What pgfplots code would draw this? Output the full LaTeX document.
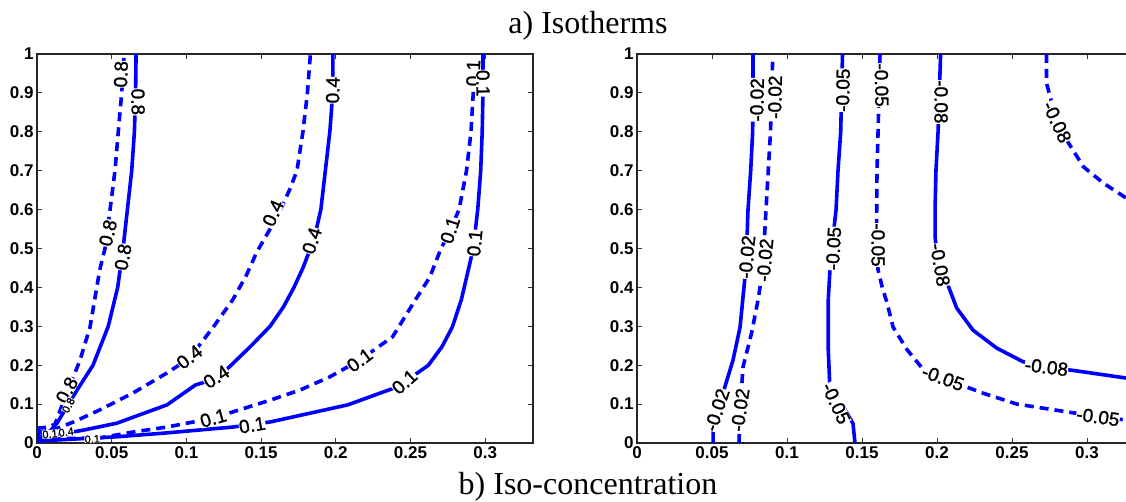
\documentclass[border=0pt]{standalone}
\usepackage{pgfplots}
\pgfplotsset{compat=1.18}
\usepackage{fontspec}
\setmainfont{Liberation Serif}
\newfontfamily\arial{Liberation Sans}
\newfontfamily\arialm[BoldFont={Liberation Sans}, BoldFeatures={FakeBold=1.3}]{Liberation Sans}

\pgfplotsset{
  mc/.style={
    scale only axis, height=389pt, anchor=south west,
    xmin=0, xmax=0.332, ymin=0, ymax=1,
    xtick={0,0.05,0.1,0.15,0.2,0.25,0.3},
    xticklabels={0,0.05,0.1,0.15,0.2,0.25,0.3},
    ytick={0,0.1,0.2,0.3,0.4,0.5,0.6,0.7,0.8,0.9,1},
    yticklabels={0,0.1,0.2,0.3,0.4,0.5,0.6,0.7,0.8,0.9,1},
    tick align=inside, major tick length=5pt,
    tick label style={font=\arial\bfseries\fontsize{17}{17}\selectfont},
    axis line style={line width=1.2pt, black!85},
    tick style={line width=0.9pt, black!80},
  },
  s/.style={blue, line width=3.6pt},
  d/.style={blue, line width=3.6pt, dash pattern=on 9pt off 6pt},
}
\newcommand{\cl}[4][19]{\node[fill=white, inner sep=0.2pt, rotate=#3, font=\arialm\bfseries\fontsize{#1}{#1}\selectfont] at (axis cs:#2) {#4};}

\begin{document}
\begin{tikzpicture}
\useasboundingbox (0,0) rectangle (1126pt,502pt);

\begin{axis}[mc, at={(37pt,59pt)}, width=496pt]
% 0.8
\addplot[s] coordinates {(0,0.025) (0.005,0.027) (0.0087,0.03) (0.0134,0.051) (0.020,0.093) (0.0268,0.136) (0.0375,0.2) (0.0477,0.3) (0.054,0.4) (0.0576,0.5) (0.0605,0.6) (0.0634,0.7) (0.0652,0.8) (0.066,0.9) (0.0663,1)};
\addplot[d] coordinates {(0,0.038) (0.006,0.04) (0.012,0.048) (0.0174,0.103) (0.0288,0.213) (0.0355,0.298) (0.042,0.445) (0.0455,0.5) (0.0489,0.6) (0.0522,0.7) (0.0544,0.8) (0.0567,0.9) (0.0582,0.99)};
% 0.4
\addplot[s] coordinates {(0,0.015) (0.008,0.018) (0.031,0.033) (0.0535,0.051) (0.087,0.098) (0.106,0.149) (0.121,0.167) (0.1426,0.247) (0.156,0.3) (0.165,0.35) (0.172,0.4) (0.178,0.45) (0.183,0.5) (0.187,0.55) (0.190,0.6) (0.193,0.7) (0.196,0.8) (0.198,0.9) (0.198,1)};
\addplot[d] coordinates {(0,0.028) (0.01,0.032) (0.025,0.055) (0.042,0.085) (0.064,0.128) (0.087,0.18) (0.102,0.218) (0.118,0.298) (0.131,0.368) (0.140,0.43) (0.147,0.49) (0.156,0.55) (0.163,0.6) (0.169,0.65) (0.174,0.7) (0.178,0.8) (0.181,0.9) (0.183,1)};
% 0.1
\addplot[s] coordinates {(0,0.005) (0.0535,0.016) (0.087,0.026) (0.131,0.041) (0.156,0.054) (0.208,0.098) (0.241,0.144) (0.248,0.162) (0.262,0.2) (0.271,0.247) (0.278,0.298) (0.284,0.368) (0.289,0.45) (0.292,0.5) (0.295,0.6) (0.297,0.7) (0.298,0.8) (0.2985,0.9) (0.2985,1)};
\addplot[d] coordinates {(0,0.01) (0.042,0.013) (0.064,0.028) (0.087,0.041) (0.118,0.064) (0.156,0.11) (0.176,0.136) (0.196,0.17) (0.216,0.213) (0.238,0.273) (0.252,0.36) (0.263,0.427) (0.27,0.496) (0.2765,0.547) (0.2825,0.6) (0.2875,0.7) (0.2905,0.8) (0.292,0.9) (0.294,0.99)};
% labels
\cl{0.0562,0.948}{88}{0.8}
\cl{0.0676,0.877}{-89}{0.8}
\cl{0.0475,0.54}{77}{0.8}
\cl{0.0576,0.478}{80}{0.8}
\cl{0.020,0.136}{62}{0.8}
\cl[11]{0.021,0.097}{62}{0.8}
\cl{0.102,0.221}{38}{0.4}
\cl{0.12,0.17}{33}{0.4}
\cl{0.158,0.591}{66}{0.4}
\cl{0.184,0.52}{72}{0.4}
\cl{0.198,0.907}{89}{0.4}
\cl{0.292,0.951}{88}{0.1}
\cl{0.2985,0.925}{-89}{0.1}
\cl{0.2765,0.547}{72}{0.1}
\cl{0.293,0.514}{85}{0.1}
\cl{0.216,0.213}{37}{0.1}
\cl{0.246,0.157}{42}{0.1}
\cl{0.118,0.064}{16}{0.1}
\cl{0.144,0.046}{10}{0.1}
\cl[11]{0.037,0.01}{3}{0.1}
\cl[11]{0.0087,0.023}{5}{0.1}
\cl[11]{0.0195,0.028}{8}{0.4}
\end{axis}

\begin{axis}[mc, at={(637pt,59pt)}, width=498pt]
% -0.02
\addplot[s] coordinates {(0.0507,0) (0.0507,0.033) (0.0573,0.128) (0.064,0.213) (0.0687,0.298) (0.072,0.427) (0.0731,0.5) (0.074,0.6) (0.0758,0.7) (0.0771,0.8) (0.0773,0.9) (0.0773,1)};
\addplot[d] coordinates {(0.068,0) (0.0687,0.085) (0.0707,0.196) (0.0764,0.283) (0.0807,0.368) (0.0838,0.445) (0.086,0.6) (0.0875,0.7) (0.089,0.8) (0.0904,0.98)};
% -0.05
\addplot[s] coordinates {(0.1453,0) (0.144,0.05) (0.135,0.11) (0.1285,0.15) (0.1275,0.24) (0.1275,0.368) (0.129,0.47) (0.1327,0.6) (0.134,0.7) (0.1358,0.8) (0.1364,0.9) (0.137,1)};
\addplot[d] coordinates {(0.162,1) (0.1607,0.8) (0.160,0.7) (0.1598,0.6) (0.1595,0.5) (0.1607,0.445) (0.1635,0.4) (0.1667,0.36) (0.1707,0.298) (0.18,0.24) (0.19,0.193) (0.204,0.167) (0.2307,0.128) (0.2533,0.10) (0.2867,0.08) (0.307,0.068) (0.326,0.059) (0.332,0.057)};
% -0.08
\addplot[s] coordinates {(0.2024,1) (0.2007,0.8) (0.1993,0.7) (0.1987,0.6) (0.1987,0.53) (0.2005,0.47) (0.2064,0.415) (0.2131,0.347) (0.224,0.29) (0.2398,0.244) (0.2573,0.209) (0.273,0.196) (0.2973,0.183) (0.326,0.167) (0.332,0.164)};
\addplot[d] coordinates {(0.273,1) (0.273,0.925) (0.28,0.825) (0.2864,0.779) (0.2976,0.71) (0.3109,0.668) (0.326,0.63) (0.332,0.616)};
% labels
\cl{0.08,0.882}{89}{-0.02}
\cl{0.092,0.889}{89}{-0.02}
\cl{0.0733,0.478}{85}{-0.02}
\cl{0.0853,0.47}{85}{-0.02}
\cl{0.0533,0.085}{72}{-0.02}
\cl{0.0687,0.085}{82}{-0.02}
\cl{0.1373,0.907}{89}{-0.05}
\cl{0.131,0.5}{87}{-0.05}
\cl{0.1327,0.102}{-65}{-0.05}
\cl{0.163,0.92}{-89}{-0.05}
\cl{0.1607,0.509}{-90}{-0.05}
\cl{0.204,0.167}{-20}{-0.05}
\cl{0.3073,0.067}{-8}{-0.05}
\cl{0.2027,0.877}{-90}{-0.08}
\cl{0.202,0.458}{-80}{-0.08}
\cl{0.273,0.195}{-7}{-0.08}
\cl{0.28,0.825}{-65}{-0.08}
\end{axis}

\node[anchor=base, font=\fontsize{32}{32}\selectfont] at (588pt,468pt) {a) Isotherms};
\node[anchor=base, font=\fontsize{32}{32}\selectfont] at (588pt,7pt) {b) Iso-concentration};
\end{tikzpicture}
\end{document}
